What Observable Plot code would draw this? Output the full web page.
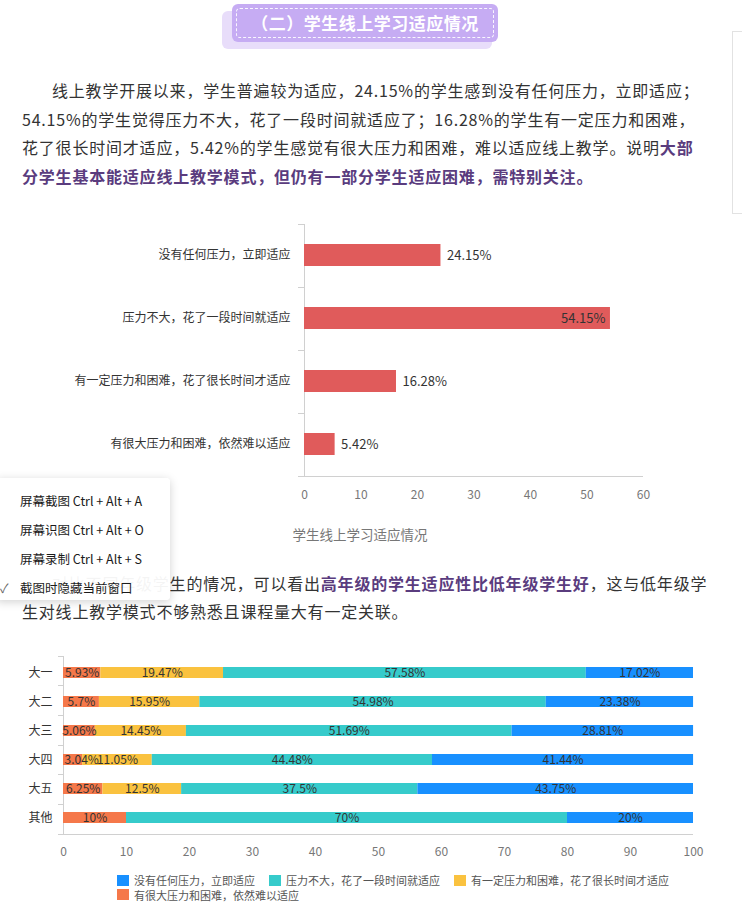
<!DOCTYPE html>
<html><head><meta charset="utf-8">
<script src="https://cdn.jsdelivr.net/npm/d3@7"></script>
<script src="https://cdn.jsdelivr.net/npm/@observablehq/plot@0.6"></script>
<style>
html,body{margin:0;padding:0;background:#fff;}
body{width:742px;height:911px;position:relative;overflow:hidden;font-family:"Noto Sans CJK SC","Noto Sans",sans-serif;}
.abs{position:absolute;}
.p{position:absolute;left:22px;width:668px;font-size:16px;letter-spacing:0.8px;color:#333;height:28.5px;line-height:28.5px;text-align:justify;text-align-last:justify;white-space:nowrap;}
.p.last{text-align-last:left;}
.hl{color:#5a3c7e;font-weight:bold;}
#banner-shadow{left:222px;top:11px;width:270px;height:38px;background:#e8ddfa;border-radius:6px;}
#banner{left:232px;top:4px;width:266px;height:38px;background:#c6acf3;border-radius:6px;}
#banner-inner{position:absolute;left:4px;top:4px;right:4px;bottom:4px;border:1px dashed rgba(255,255,255,0.9);border-radius:4px;color:#fff;font-weight:bold;font-size:17px;line-height:28px;text-align:center;letter-spacing:0.5px;}
#sidebox{left:732px;top:31px;width:14px;height:181px;border:1px solid #e2e2e2;border-right:none;}
#chart1-title{left:0;width:720px;top:524px;text-align:center;font-size:13.5px;color:#777;}
#popup{left:-4px;top:478px;width:174px;height:122px;background:rgba(255,255,255,0.95);box-shadow:0 2px 10px rgba(0,0,0,0.18);border-radius:4px;}
.pi{position:absolute;left:24px;font-size:12.5px;color:#1a1a1a;white-space:nowrap;font-family:"Noto Sans CJK SC",sans-serif;}
#legend{left:117px;top:873px;width:575px;display:flex;flex-wrap:wrap;column-gap:14px;row-gap:0px;font-size:11px;color:#555;line-height:14.5px;}
.li{display:flex;align-items:center;white-space:nowrap;}
.sw{width:12px;height:11px;margin-right:5px;display:inline-block;}
svg [aria-label^="x-axis"]{color:#777;}
svg [aria-label^="y-axis"]{color:#333;}
</style>
</head><body>

<div id="banner-shadow" class="abs"></div>
<div id="banner" class="abs"><div id="banner-inner">（二）学生线上学习适应情况</div></div>
<div id="sidebox" class="abs"></div>

<div class="p" style="top:76px;padding-left:30px;width:638px;">线上教学开展以来，学生普遍较为适应，24.15%的学生感到没有任何压力，立即适应；</div>
<div class="p" style="top:104.5px;">54.15%的学生觉得压力不大，花了一段时间就适应了；16.28%的学生有一定压力和困难，</div>
<div class="p" style="top:133px;">花了很长时间才适应，5.42%的学生感觉有很大压力和困难，难以适应线上教学。说明<span class="hl">大部</span></div>
<div class="p last" style="top:161.5px;"><span class="hl">分学生基本能适应线上教学模式，但仍有一部分学生适应困难，需特别关注。</span></div>

<div id="chart1" class="abs" style="left:0;top:210px;"></div>
<div id="chart1-title" class="abs"></div>

<div class="p" style="top:569px;padding-left:30px;width:638px;">对比不同年级学生的情况，可以看出<span class="hl">高年级的学生适应性比低年级学生好</span>，这与低年级学</div>
<div class="p last" style="top:597px;">生对线上教学模式不够熟悉且课程量大有一定关联。</div>

<div id="popup" class="abs">
  <div class="pi" style="top:13px;">屏幕截图 Ctrl + Alt + A</div>
  <div class="pi" style="top:42px;">屏幕识图 Ctrl + Alt + O</div>
  <div class="pi" style="top:71px;">屏幕录制 Ctrl + Alt + S</div>
  <div class="pi" style="top:100px;">截图时隐藏当前窗口</div>
  <div class="pi" style="top:100px;left:4px;color:#666;">✓</div>
</div>

<div id="chart2" class="abs" style="left:0;top:645px;"></div>
<div id="legend" class="abs"></div>

<script>
// ---------- Chart 1 data ----------
const adaptOptions = ["没有任何压力，立即适应", "压力不大，花了一段时间就适应", "有一定压力和困难，花了很长时间才适应", "有很大压力和困难，依然难以适应"];
const adaptShares = [24.15, 54.15, 16.28, 5.42];
const chart1Ticks = [0, 10, 20, 30, 40, 50, 60];
const chart1Title = "学生线上学习适应情况";
const chart1Color = "#e05b5b";

// ---------- Chart 2 data ----------
const grades = ["大一", "大二", "大三", "大四", "大五", "其他"];
const seriesNames = ["没有任何压力，立即适应", "压力不大，花了一段时间就适应", "有一定压力和困难，花了很长时间才适应", "有很大压力和困难，依然难以适应"];
const seriesColors = ["#1890ff", "#36cbcb", "#fac23f", "#f5784a"];
const noPressure   = [17.02, 23.38, 28.81, 41.44, 43.75, 20];
const lowPressure  = [57.58, 54.98, 51.69, 44.48, 37.5, 70];
const somePressure = [19.47, 15.95, 14.45, 11.05, 12.5, 0];
const highPressure = [5.93, 5.7, 5.06, 3.04, 6.25, 10];
const stackOrder = [3, 2, 1, 0]; // left to right
const chart2Ticks = [0, 10, 20, 30, 40, 50, 60, 70, 80, 90, 100];

const NS = "http://www.w3.org/2000/svg";
// axis decorations: vertical axis at x=0, bottom line, boundary ticks between bands
function bandAxisDecor(n, tickLen, color) {
  return (index, scales, values, dims) => {
    const {marginTop: t, marginLeft: l, marginRight: r, marginBottom: b, width: w, height: h} = dims;
    const g = document.createElementNS(NS, "g");
    const x0 = scales.x(0);
    const line = (x1, y1, x2, y2) => {
      const e = document.createElementNS(NS, "line");
      e.setAttribute("x1", x1); e.setAttribute("y1", y1);
      e.setAttribute("x2", x2); e.setAttribute("y2", y2);
      e.setAttribute("stroke", color); e.setAttribute("stroke-width", 1);
      e.setAttribute("shape-rendering", "crispEdges");
      g.appendChild(e);
    };
    line(x0, t, x0, h - b);
    line(x0, h - b, w - r, h - b);
    for (let k = 0; k <= n; k++) {
      const y = t + k * (h - t - b) / n;
      line(x0 - tickLen, y, x0, y);
    }
    return g;
  };
}

const font = '"Noto Sans CJK SC", "Noto Sans", sans-serif';

// ---------- Chart 1 ----------
const rows1 = adaptOptions.map((o, i) => ({option: o, value: adaptShares[i]}));
const maxShare = d3.max(adaptShares);
const chart1 = Plot.plot({
  width: 742, height: 300,
  marginTop: 14, marginBottom: 34, marginLeft: 304, marginRight: 99,
  style: {fontFamily: font, fontSize: "12px", background: "transparent", overflow: "visible"},
  x: {domain: [0, 60], ticks: chart1Ticks, tickSize: 0, tickPadding: 14, label: null},
  y: {domain: adaptOptions, paddingInner: 0.65, paddingOuter: 0.325, tickSize: 0, tickPadding: 14, label: null},
  marks: [
    bandAxisDecor(adaptOptions.length, 6, "#d0d0d0"),
    Plot.barX(rows1, {x: "value", y: "option", fill: chart1Color}),
    Plot.text(rows1.filter(d => d.value < maxShare), {x: "value", y: "option", text: d => d.value + "%", textAnchor: "start", dx: 6, fill: "#333", fontSize: 13}),
    Plot.text(rows1.filter(d => d.value === maxShare), {x: "value", y: "option", text: d => d.value + "%", textAnchor: "end", dx: -5, fill: "#333", fontSize: 13})
  ]
});
document.getElementById("chart1").appendChild(chart1);
document.getElementById("chart1-title").textContent = chart1Title;

// ---------- Chart 2 ----------
const seriesValues = [noPressure, lowPressure, somePressure, highPressure];
const rows2 = [];
grades.forEach((g, gi) => stackOrder.forEach((si, k) => {
  rows2.push({grade: g, series: seriesNames[si], value: seriesValues[si][gi], first: k === 0});
}));
const rows2nz = rows2.filter(d => d.value > 0);
// a first-segment label too wide for its segment is pushed to start at the axis
const clamped = d => d.first && d.value < 4;
const chart2 = Plot.plot({
  width: 742, height: 225,
  marginTop: 11, marginBottom: 36, marginLeft: 63, marginRight: 49,
  style: {fontFamily: font, fontSize: "12px", background: "transparent", overflow: "visible"},
  x: {domain: [0, 100], ticks: chart2Ticks, tickSize: 0, tickPadding: 13, label: null},
  y: {domain: grades, paddingInner: 0.63, paddingOuter: 0.315, tickSize: 0, tickPadding: 11, label: null},
  color: {domain: seriesNames, range: seriesColors},
  marks: [
    bandAxisDecor(grades.length, 5, "#d0d0d0"),
    Plot.barX(rows2nz, Plot.stackX({x: "value", y: "grade", fill: "series", order: null})),
    Plot.text(rows2nz, Plot.stackX({x: "value", y: "grade", order: null, text: d => clamped(d) ? "" : d.value + "%", fill: "#333", fontSize: 12})),
    Plot.text(rows2nz, Plot.stackX1({x: "value", y: "grade", order: null, text: d => clamped(d) ? d.value + "%" : "", textAnchor: "start", dx: 1, fill: "#333", fontSize: 12}))
  ]
});
document.getElementById("chart2").appendChild(chart2);

// ---------- Legend ----------
const legend = document.getElementById("legend");
seriesNames.forEach((name, i) => {
  const item = document.createElement("div");
  item.className = "li";
  const sw = document.createElement("span");
  sw.className = "sw";
  sw.style.background = seriesColors[i];
  item.appendChild(sw);
  item.appendChild(document.createTextNode(name));
  legend.appendChild(item);
});
</script>
</body></html>
